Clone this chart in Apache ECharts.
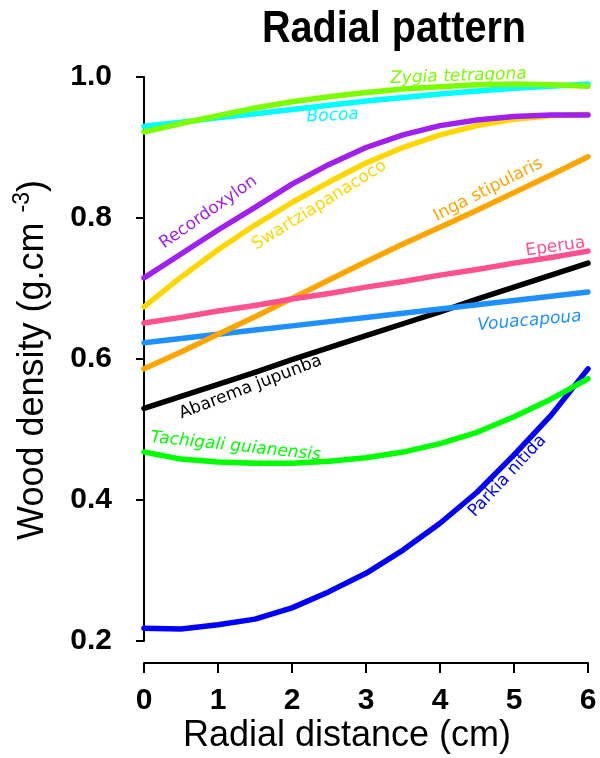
<!DOCTYPE html>
<html>
<head>
<meta charset="utf-8">
<script src="https://cdn.jsdelivr.net/npm/echarts@6/dist/echarts.min.js"></script>
<style>html,body{margin:0;padding:0;background:#fff}#c{width:600px;height:758px}</style>
</head>
<body>
<div id="c"></div>
<script>
// Radial distance (cm)
const radialDistance = [0, 0.5, 1, 1.5, 2, 2.5, 3, 3.5, 4, 4.5, 5, 5.5, 6];

// Wood density (g.cm-3) per species
const parkiaNitida      = [0.218, 0.217, 0.223, 0.231, 0.247, 0.270, 0.296, 0.329, 0.367, 0.411, 0.464, 0.520, 0.586];
const tachigaliGuian    = [0.468, 0.458, 0.454, 0.452, 0.452, 0.455, 0.460, 0.468, 0.480, 0.496, 0.518, 0.543, 0.572];
const abaremaJupunba    = [0.530, 0.547, 0.564, 0.581, 0.599, 0.616, 0.633, 0.650, 0.667, 0.685, 0.702, 0.719, 0.736];
const vouacapoua        = [0.623, 0.629, 0.635, 0.641, 0.647, 0.653, 0.659, 0.665, 0.671, 0.677, 0.683, 0.689, 0.695];
const ingaStipularis    = [0.586, 0.610, 0.635, 0.660, 0.686, 0.712, 0.738, 0.763, 0.787, 0.811, 0.836, 0.861, 0.887];
const eperua            = [0.651, 0.659, 0.668, 0.676, 0.685, 0.693, 0.702, 0.710, 0.719, 0.727, 0.736, 0.744, 0.753];
const swartziapanacoco  = [0.674, 0.716, 0.755, 0.790, 0.822, 0.851, 0.878, 0.900, 0.918, 0.931, 0.940, 0.945, 0.947];
const recordoxylon      = [0.715, 0.749, 0.783, 0.815, 0.848, 0.876, 0.900, 0.918, 0.931, 0.939, 0.944, 0.946, 0.946];
const bocoa             = [0.930, 0.936, 0.942, 0.948, 0.954, 0.960, 0.966, 0.971, 0.976, 0.980, 0.984, 0.987, 0.990];
const zygiaTetragona    = [0.922, 0.934, 0.945, 0.956, 0.965, 0.972, 0.978, 0.983, 0.986, 0.989, 0.990, 0.989, 0.987];

const speciesNames = ['Parkia nitida','Tachigali guianensis','Abarema jupunba','Vouacapoua','Inga stipularis','Eperua','Swartziapanacoco','Recordoxylon','Bocoa','Zygia tetragona'];
const speciesValues = [parkiaNitida, tachigaliGuian, abaremaJupunba, vouacapoua, ingaStipularis, eperua, swartziapanacoco, recordoxylon, bocoa, zygiaTetragona];
const speciesColors = ['#0000FF','#00FF00','#000000','#1E90FF','#FFA500','#FF5090','#FFD700','#A020F0','#00FFFF','#7CFC00'];

// label anchors in data coordinates [x, y], rotation (deg), italic
const labelAnchorX = [4.91, 1.24, 1.44, 5.21, 4.65, 5.56, 2.37, 0.87, 2.55, 4.25];
const labelAnchorY = [0.434, 0.476, 0.560, 0.654, 0.840, 0.759, 0.818, 0.808, 0.945, 1.001];
const labelRotate  = [47, -6, 21, 5, 27, 8, 32, 35, 3, 2];
const labelItalic  = [false, true, false, true, false, false, false, false, true, true];

const xTicks = [0, 1, 2, 3, 4, 5, 6];
const yTicks = [0.2, 0.4, 0.6, 0.8, 1.0];

const chart = echarts.init(document.getElementById('c'), null, {renderer: 'canvas'});

const series = speciesValues.map((vals, i) => ({
  type: 'line',
  name: speciesNames[i],
  data: radialDistance.map((x, j) => [x, vals[j]]),
  showSymbol: false,
  smooth: false,
  silent: true,
  lineStyle: {color: speciesColors[i], width: 5.5, cap: 'round', join: 'round'},
  z: 2 + i
}));

const tickFont = {fontFamily: 'Liberation Sans, Arial, sans-serif', fontWeight: 'bold', fontSize: 30, color: '#000'};

chart.setOption({
  animation: false,
  backgroundColor: '#fff',
  grid: {left: 144, right: 12, top: 77, bottom: 117, containLabel: false},
  xAxis: {
    type: 'value', min: xTicks[0], max: xTicks[xTicks.length - 1], interval: 1,
    offset: 22,
    axisLine: {show: true, lineStyle: {color: '#000', width: 2}},
    axisTick: {show: true, length: 10, lineStyle: {color: '#000', width: 2}},
    axisLabel: Object.assign({margin: 23, formatter: v => String(v)}, tickFont),
    splitLine: {show: false}
  },
  yAxis: {
    type: 'value', min: yTicks[0], max: yTicks[yTicks.length - 1], interval: 0.2,
    offset: 17,
    axisLine: {show: true, lineStyle: {color: '#000', width: 2}},
    axisTick: {show: true, length: 8, lineStyle: {color: '#000', width: 2}},
    axisLabel: Object.assign({margin: 15, formatter: v => v.toFixed(1)}, tickFont),
    splitLine: {show: false}
  },
  series: series
});

const graphics = [];
speciesNames.forEach((name, i) => {
  const p = chart.convertToPixel({gridIndex: 0}, [labelAnchorX[i], labelAnchorY[i]]);
  graphics.push({
    type: 'text', x: p[0], y: p[1], rotation: labelRotate[i] * Math.PI / 180, z: 100,
    style: {
      text: name, fill: speciesColors[i],
      font: (labelItalic[i] ? 'oblique ' : '') + '17px "DejaVu Sans", Verdana, sans-serif',
      align: 'center', verticalAlign: 'middle'
    }
  });
});
graphics.push({
  type: 'text', x: 394, y: 30, z: 100, scaleX: 0.88,
  style: {text: 'Radial pattern', fill: '#000', font: 'bold 45px "Liberation Sans", Arial, sans-serif', align: 'center', verticalAlign: 'middle'}
});
graphics.push({
  type: 'text', x: 347, y: 736, z: 100,
  style: {text: 'Radial distance (cm)', fill: '#000', font: '36px "Liberation Sans", Arial, sans-serif', align: 'center', verticalAlign: 'middle'}
});
graphics.push({
  type: 'text', x: 31, y: 360, rotation: Math.PI / 2, z: 100,
  style: {
    text: '{a|Wood density (g.cm }{s|-3}{a|)}',
    align: 'center', verticalAlign: 'middle',
    rich: {
      a: {fontSize: 36, fontFamily: 'Liberation Sans, Arial, sans-serif', fill: '#000', verticalAlign: 'bottom', lineHeight: 40},
      s: {fontSize: 23, fontFamily: 'Liberation Sans, Arial, sans-serif', fill: '#000', verticalAlign: 'top', lineHeight: 40, padding: [0, 0, 14, 0]}
    }
  }
});
chart.setOption({graphic: graphics});
</script>
</body>
</html>
